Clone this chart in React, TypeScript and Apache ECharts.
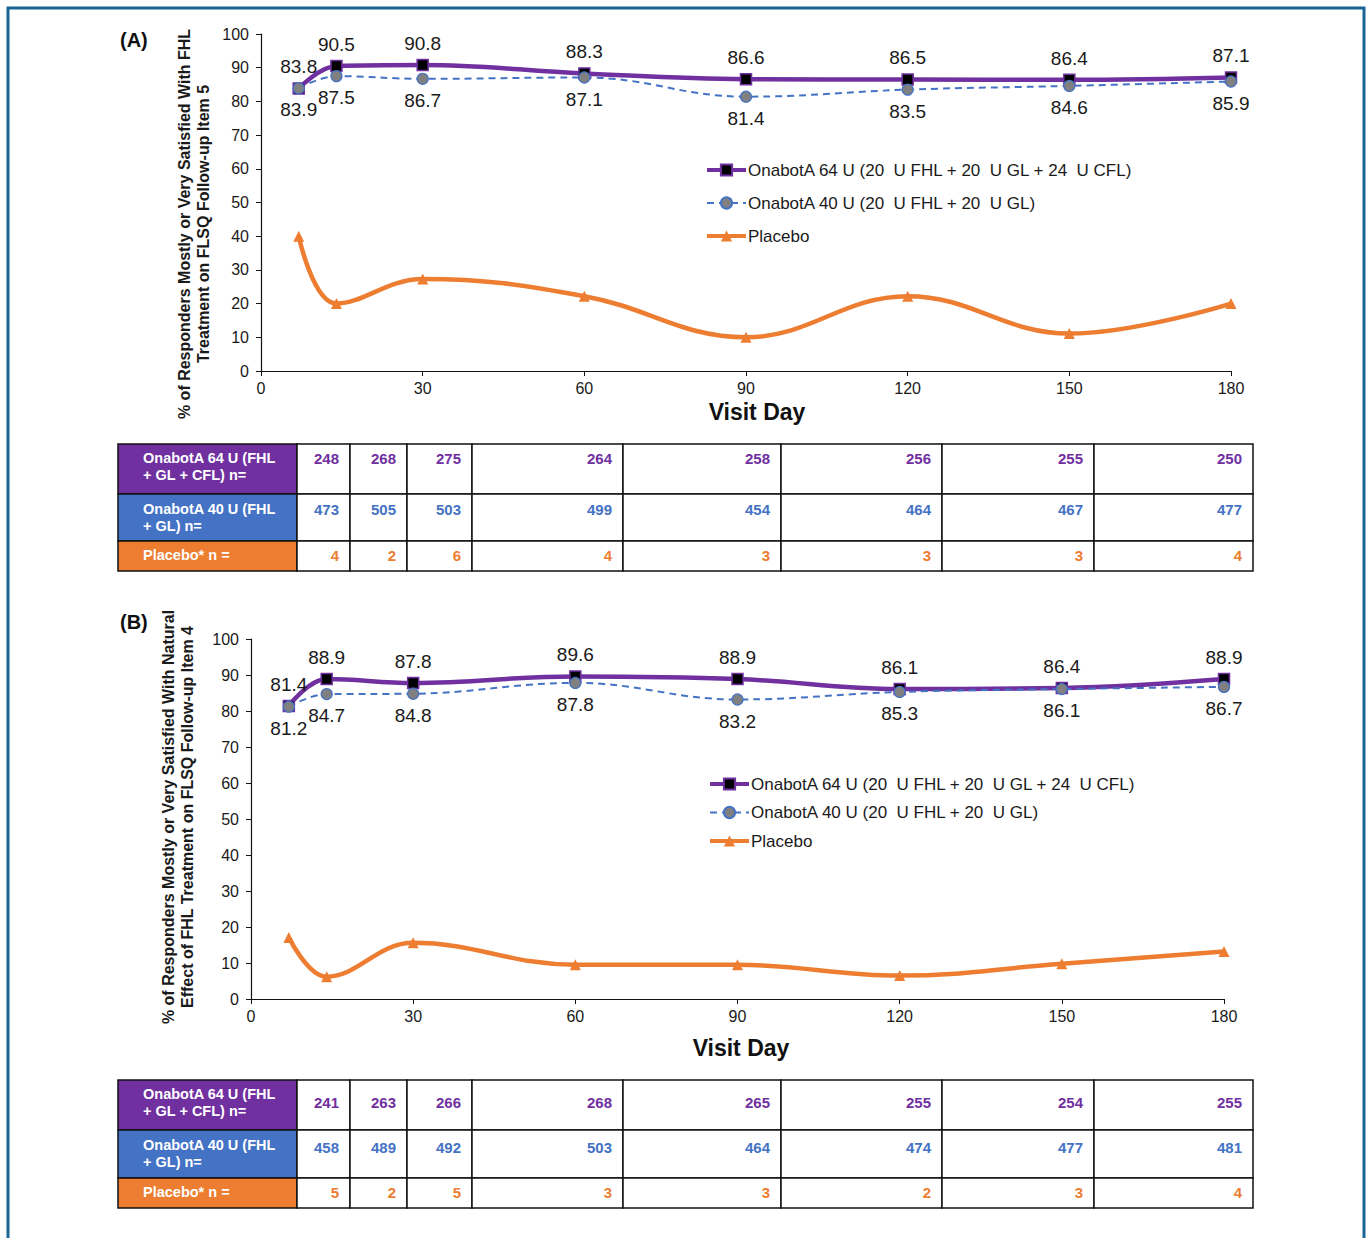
import React, { useEffect, useRef } from "react";
import * as echarts from "echarts";

const FONT = "'Liberation Sans', Arial, Helvetica, sans-serif";

const days = [7, 14, 30, 60, 90, 120, 150, 180];

const seriesNames = [
  "OnabotA 64 U (20  U FHL + 20  U GL + 24  U CFL)",
  "OnabotA 40 U (20  U FHL + 20  U GL)",
  "Placebo",
];

// Panel A
const a64 = [83.8, 90.5, 90.8, 88.3, 86.6, 86.5, 86.4, 87.1];
const a40 = [83.9, 87.5, 86.7, 87.1, 81.4, 83.5, 84.6, 85.9];
const aPlacebo = [40, 20, 27.3, 22.2, 10, 22.2, 11.1, 20];

// Panel B
const b64 = [81.4, 88.9, 87.8, 89.6, 88.9, 86.1, 86.4, 88.9];
const b40 = [81.2, 84.7, 84.8, 87.8, 83.2, 85.3, 86.1, 86.7];
const bPlacebo = [17.1, 6.2, 15.6, 9.5, 9.5, 6.5, 9.8, 13.2];

// Tables (n per visit)
const nA64 = [248, 268, 275, 264, 258, 256, 255, 250];
const nA40 = [473, 505, 503, 499, 454, 464, 467, 477];
const nAPlacebo = [4, 2, 6, 4, 3, 3, 3, 4];
const nB64 = [241, 263, 266, 268, 265, 255, 254, 255];
const nB40 = [458, 489, 492, 503, 464, 474, 477, 481];
const nBPlacebo = [5, 2, 5, 3, 3, 2, 3, 4];

const rowLabels = [
  ["OnabotA 64 U (FHL", "+ GL + CFL) n="],
  ["OnabotA 40 U (FHL", "+ GL) n="],
  ["Placebo* n ="],
];

const yTitleA = ["% of Responders Mostly or Very Satisfied With FHL", "Treatment on FLSQ Follow-up Item 5"];
const yTitleB = ["% of Responders Mostly or Very Satisfied With Natural", "Effect of FHL Treatment on FLSQ Follow-up Item 4"];

const PURPLE = "#7030a0";
const BLUE = "#4472c4";
const ORANGE = "#ed7d31";
const TEXT = "#1a1a1a";

const colX = [118, 297, 350, 407, 472, 623, 781, 942, 1094, 1253];

function buildTable(rowsY: number[], valueOffsets: number[], labelOffsets: number[], values: number[][]) {
  const els: any[] = [];
  const fills = [PURPLE, BLUE, ORANGE];
  for (let r = 0; r < 3; r++) {
    const y0 = rowsY[r];
    const y1 = rowsY[r + 1];
    els.push({
      type: "rect",
      shape: { x: colX[0], y: y0, width: colX[1] - colX[0], height: y1 - y0 },
      style: { fill: fills[r], stroke: "#111", lineWidth: 1.5 },
    });
    rowLabels[r].forEach((t, li) => {
      els.push({
        type: "text",
        x: 143,
        y: y0 + labelOffsets[r] + li * 17,
        style: { text: t, fill: "#fff", font: `bold 14.5px ${FONT}`, align: "left", verticalAlign: "middle" },
      });
    });
    for (let c = 0; c < 8; c++) {
      els.push({
        type: "rect",
        shape: { x: colX[c + 1], y: y0, width: colX[c + 2] - colX[c + 1], height: y1 - y0 },
        style: { fill: "#fff", stroke: "#111", lineWidth: 1.5 },
      });
      els.push({
        type: "text",
        x: colX[c + 2] - 11,
        y: y0 + valueOffsets[r],
        style: { text: String(values[r][c]), fill: fills[r], font: `bold 15px ${FONT}`, align: "right", verticalAlign: "middle" },
      });
    }
  }
  return els;
}

function yTitle(lines: string[], xs: number[], cy: number) {
  return lines.map((t, i) => ({
    type: "text",
    x: xs[i],
    y: cy,
    rotation: Math.PI / 2,
    style: { text: t, fill: TEXT, font: `bold 16px ${FONT}`, align: "center", verticalAlign: "middle" },
  }));
}

function makeSeries(idx: number, v64: number[], v40: number[], vp: number[]) {
  const lbl = { show: true, fontSize: 19, color: TEXT, fontFamily: FONT, distance: 6 };
  return [
    {
      name: seriesNames[0],
      type: "line",
      xAxisIndex: idx,
      yAxisIndex: idx,
      data: days.map((d, i) => [d, v64[i]]),
      smooth: 0.4,
      symbol: "rect",
      symbolSize: 11,
      itemStyle: { color: "#000", borderColor: PURPLE, borderWidth: 1.5 },
      lineStyle: { color: PURPLE, width: 4.5 },
      label: { ...lbl, position: "top" },
    },
    {
      name: seriesNames[1],
      type: "line",
      xAxisIndex: idx,
      yAxisIndex: idx,
      data: days.map((d, i) => [d, v40[i]]),
      smooth: 0.4,
      symbol: "circle",
      symbolSize: 11,
      itemStyle: { color: "#808080", borderColor: BLUE, borderWidth: 1.2 },
      lineStyle: { color: BLUE, width: 2, type: [7, 5] },
      label: { ...lbl, position: "bottom" },
    },
    {
      name: seriesNames[2],
      type: "line",
      xAxisIndex: idx,
      yAxisIndex: idx,
      data: days.map((d, i) => [d, vp[i]]),
      smooth: 0.4,
      symbol: "triangle",
      symbolSize: 11,
      itemStyle: { color: ORANGE },
      lineStyle: { color: ORANGE, width: 4.5 },
      label: { show: false },
    },
  ];
}

function xAxis(gridIndex: number) {
  return {
    type: "value",
    gridIndex,
    min: 0,
    max: 180,
    interval: 30,
    axisLine: { show: true, onZero: false, lineStyle: { color: "#111", width: 1.2 } },
    axisTick: { show: true, length: 5, lineStyle: { color: "#111" } },
    axisLabel: { fontSize: 16, color: TEXT, fontFamily: FONT, margin: 9 },
    splitLine: { show: false },
  };
}

function yAxis(gridIndex: number) {
  return {
    type: "value",
    gridIndex,
    min: 0,
    max: 100,
    interval: 10,
    axisLine: { show: true, lineStyle: { color: "#111", width: 1.2 } },
    axisTick: { show: true, length: 5, lineStyle: { color: "#111" } },
    axisLabel: { fontSize: 16, color: TEXT, fontFamily: FONT, margin: 12 },
    splitLine: { show: false },
  };
}

function legend(left: number, top: number, gap: number) {
  return {
    data: [
      { name: seriesNames[0], lineStyle: { width: 4 } },
      { name: seriesNames[1], lineStyle: { width: 2 } },
      { name: seriesNames[2], lineStyle: { width: 4 } },
    ],
    orient: "vertical",
    left,
    top,
    padding: 0,
    itemWidth: 39,
    itemHeight: 14,
    itemGap: gap,
    selectedMode: false,
    textStyle: { fontSize: 17, color: TEXT, fontFamily: FONT, lineHeight: 20, padding: [0, 0, 0, -3] },
  };
}

export default function App() {
  const ref = useRef<HTMLDivElement>(null);
  useEffect(() => {
    if (!ref.current) return;
    const chart = echarts.init(ref.current, null, { renderer: "svg" });
    const option: any = {
      animation: false,
      backgroundColor: "#fff",
      textStyle: { fontFamily: FONT },
      grid: [
        { left: 261, top: 34, width: 970, height: 337 },
        { left: 251, top: 639, width: 973, height: 360 },
      ],
      xAxis: [xAxis(0), xAxis(1)],
      yAxis: [yAxis(0), yAxis(1)],
      legend: [legend(705, 160, 13), legend(708, 774, 8.5)],
      series: [...makeSeries(0, a64, a40, aPlacebo), ...makeSeries(1, b64, b40, bPlacebo)],
      graphic: [
        {
          type: "rect",
          shape: { x: 8, y: 8, width: 1356, height: 1260 },
          style: { fill: "none", stroke: "#1a6496", lineWidth: 3 },
          silent: true,
        },
        { type: "text", x: 120, y: 40, style: { text: "(A)", fill: "#111", font: `bold 20px ${FONT}`, align: "left", verticalAlign: "middle" } },
        { type: "text", x: 120, y: 622, style: { text: "(B)", fill: "#111", font: `bold 20px ${FONT}`, align: "left", verticalAlign: "middle" } },
        { type: "text", x: 757, y: 412, style: { text: "Visit Day", fill: "#111", font: `bold 23px ${FONT}`, align: "center", verticalAlign: "middle" } },
        { type: "text", x: 741, y: 1048, style: { text: "Visit Day", fill: "#111", font: `bold 23px ${FONT}`, align: "center", verticalAlign: "middle" } },
        ...yTitle(yTitleA, [184, 203], 224),
        ...yTitle(yTitleB, [168, 187], 817),
        ...buildTable([444, 494, 541, 571], [14, 15, 14], [14, 15, 14], [nA64, nA40, nAPlacebo]),
        ...buildTable([1080, 1130, 1178, 1208], [22, 17, 14], [14, 15, 14], [nB64, nB40, nBPlacebo]),
      ],
    };
    chart.setOption(option);
    return () => chart.dispose();
  }, []);
  return (
    <div
      ref={ref}
      style={{ position: "absolute", left: 0, top: 0, width: 1369, height: 1238, background: "#fff" }}
    />
  );
}
